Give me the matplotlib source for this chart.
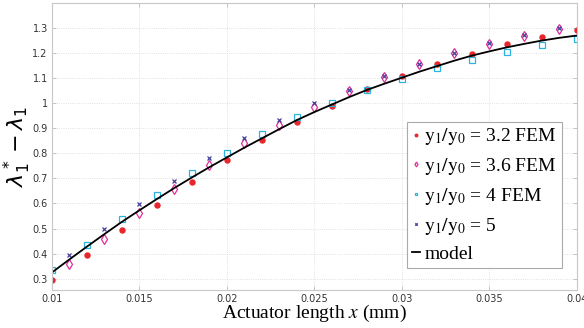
import matplotlib
matplotlib.use("Agg")
import matplotlib.pyplot as plt
from matplotlib.font_manager import FontProperties

# FEM results
x_even = [0.010, 0.012, 0.014, 0.016, 0.018, 0.020, 0.022, 0.024,
          0.026, 0.028, 0.030, 0.032, 0.034, 0.036, 0.038, 0.040]
x_odd = [0.011, 0.013, 0.015, 0.017, 0.019, 0.021, 0.023, 0.025,
         0.027, 0.029, 0.031, 0.033, 0.035, 0.037, 0.039]

fem_32 = [0.295, 0.395, 0.494, 0.592, 0.684, 0.772, 0.854, 0.925,
          0.990, 1.055, 1.108, 1.155, 1.196, 1.235, 1.266, 1.293]
fem_36 = [0.358, 0.460, 0.562, 0.659, 0.752, 0.840, 0.915, 0.986,
          1.047, 1.105, 1.155, 1.199, 1.236, 1.269, 1.298]
fem_4 = [0.333, 0.435, 0.538, 0.633, 0.722, 0.802, 0.878, 0.944,
         0.999, 1.053, 1.098, 1.139, 1.173, 1.204, 1.232, 1.256]
fem_5 = [0.393, 0.497, 0.598, 0.691, 0.780, 0.861, 0.933, 0.999,
         1.053, 1.109, 1.158, 1.201, 1.239, 1.272, 1.300]

# model curve
x_model = [0.010, 0.011, 0.012, 0.013, 0.014, 0.015, 0.016, 0.017, 0.018,
           0.019, 0.020, 0.021, 0.022, 0.023, 0.024, 0.025, 0.026, 0.027,
           0.028, 0.029, 0.030, 0.031, 0.032, 0.033, 0.034, 0.035, 0.036,
           0.037, 0.038, 0.039, 0.040]
model = [0.325, 0.377, 0.428, 0.478, 0.527, 0.573, 0.618, 0.662, 0.704,
         0.745, 0.784, 0.823, 0.860, 0.897, 0.933, 0.965, 0.995, 1.025,
         1.053, 1.078, 1.102, 1.126, 1.148, 1.170, 1.190, 1.207, 1.223,
         1.237, 1.250, 1.261, 1.270]

xticks = [0.01, 0.015, 0.02, 0.025, 0.03, 0.035, 0.04]
xtick_labels = ["0.01", "0.015", "0.02", "0.025", "0.03", "0.035", "0.04"]
yticks = [0.3, 0.4, 0.5, 0.6, 0.7, 0.8, 0.9, 1.0, 1.1, 1.2, 1.3]
ytick_labels = ["0.3", "0.4", "0.5", "0.6", "0.7", "0.8", "0.9", "1", "1.1", "1.2", "1.3"]

fig = plt.figure(figsize=(5.84, 3.28), dpi=100)
ax = fig.add_axes([0.089, 0.116, 0.899, 0.875])

ax.plot(x_even, fem_32, "o", color="#e8262b", ms=3.6, mec="#e8262b",
        label=r"$\mathrm{y_1/y_0}$ = 3.2 FEM")
ax.plot(x_odd, fem_36, "d", color="#e0309a", ms=5, mfc="none", mew=0.9,
        label=r"$\mathrm{y_1/y_0}$ = 3.6 FEM")
ax.plot(x_even, fem_4, "s", color="#2bb3e0", ms=4.2, mfc="none", mew=0.9,
        label=r"$\mathrm{y_1/y_0}$ = 4 FEM")
ax.plot(x_odd, fem_5, "x", color="#44409a", ms=3.5, mew=0.9,
        label=r"$\mathrm{y_1/y_0}$ = 5")
ax.plot(x_model, model, "-", color="black", lw=1.3, label="model")

ax.set_xlim(0.01, 0.04)
ax.set_ylim(0.255, 1.40)
ax.set_xticks(xticks)
ax.set_xticklabels(xtick_labels)
ax.set_yticks(yticks)
ax.set_yticklabels(ytick_labels)
ax.tick_params(direction="in", length=3, width=0.6, labelsize=7,
               colors="#bbbbbb", labelcolor="#333333", top=True, right=True,
               pad=3)
for s in ax.spines.values():
    s.set_color("#c8c8c8")
    s.set_linewidth(0.8)
ax.grid(True, ls=":", lw=0.6, color="#d8d8d8")

ax.set_xlabel(r"Actuator length $x$ (mm)", family="Liberation Serif",
              fontsize=14, math_fontfamily="stix", labelpad=-1)
ax.set_ylabel(r"$\lambda_1^* - \lambda_1$", fontsize=16,
              math_fontfamily="dejavusans")
ax.yaxis.set_label_coords(-0.037, 0.5)

leg_font = FontProperties(family="Liberation Serif", size=14,
                          math_fontfamily="stix")
leg = ax.legend(loc="lower right", prop=leg_font, markerscale=0.5,
                handlelength=0.45, handletextpad=0.2, borderpad=0.25,
                borderaxespad=0, labelspacing=0.45, fancybox=False,
                framealpha=1, edgecolor="#aaaaaa",
                bbox_to_anchor=(0.971, 0.077))
leg.get_frame().set_linewidth(0.8)

fig.savefig("out.png", dpi=100)
